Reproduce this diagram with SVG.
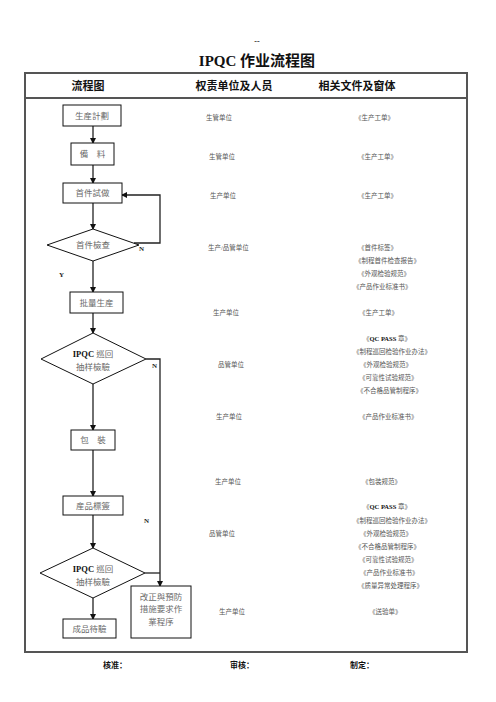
<svg xmlns="http://www.w3.org/2000/svg" width="496" height="702" viewBox="0 0 496 702">
<defs>
<marker id="ah" markerWidth="6" markerHeight="6" refX="5" refY="3" orient="auto" markerUnits="userSpaceOnUse">
<path d="M0,0 L6,3 L0,6 Z" fill="#111"/>
</marker>
<style>
.frame{stroke:#555;stroke-width:2;fill:none}
.node{fill:#fff;stroke:#111;stroke-width:1}
.ntx{font-family:"Liberation Serif","Noto Sans CJK TC","Noto Sans CJK SC",serif;font-size:8.5px;fill:#6a6a6a;text-anchor:middle}
.conn{stroke:#222;stroke-width:1.3;fill:none}
.arr{marker-end:url(#ah)}
.col{font-family:"Liberation Serif","Noto Sans CJK SC",serif;font-size:6.5px;fill:#555}
.hd{font-family:"Liberation Serif","Noto Sans CJK SC",serif;font-size:11px;font-weight:bold;fill:#111;text-anchor:middle}
.lbl{font-family:"Liberation Serif",serif;font-size:7px;font-weight:bold;fill:#222}
.ft{font-family:"Liberation Serif","Noto Sans CJK SC",serif;font-size:8px;font-weight:bold;fill:#111}
</style>
</defs>
<rect width="496" height="702" fill="#fff"/>
<text x="257" y="44" font-family="Liberation Serif,serif" font-size="8" font-weight="bold" text-anchor="middle" fill="#222">--</text>
<text x="257" y="66" font-family="Liberation Serif,'Noto Sans CJK SC',serif" font-size="15" font-weight="bold" text-anchor="middle" fill="#111">IPQC 作业流程图</text>
<g id="table">
<line class="frame" x1="24" y1="73" x2="468" y2="73"/>
<line class="frame" x1="24" y1="98" x2="468" y2="98"/>
<line class="frame" x1="24" y1="652" x2="468" y2="652"/>
<line class="frame" x1="25" y1="72" x2="25" y2="653"/>
<line class="frame" x1="467" y1="72" x2="467" y2="653" stroke-width="2.5"/>
<text class="hd" x="88" y="90">流程图</text>
<text class="hd" x="234" y="90">权责单位及人员</text>
<text class="hd" x="357" y="90">相关文件及窗体</text>
</g>
<g id="connectors">
<line class="conn arr" x1="93" y1="126" x2="93" y2="143"/>
<line class="conn arr" x1="93" y1="165" x2="93" y2="183"/>
<line class="conn arr" x1="93" y1="203" x2="93" y2="229"/>
<polyline class="conn arr" points="134,243 160,243 160,195 122,195"/>
<line class="conn arr" x1="93" y1="261" x2="93" y2="292"/>
<line class="conn arr" x1="93" y1="313" x2="93" y2="333"/>
<line class="conn arr" x1="93" y1="384" x2="93" y2="430"/>
<line class="conn arr" x1="93" y1="450" x2="93" y2="496"/>
<line class="conn arr" x1="93" y1="515" x2="93" y2="548"/>
<polyline class="conn arr" points="146,359 160,359 160,586"/>
<line class="conn" x1="145" y1="573" x2="160" y2="573"/>
<line class="conn arr" x1="93" y1="598" x2="93" y2="619"/>
<text class="lbl" x="139" y="251">N</text>
<text class="lbl" x="59" y="277">Y</text>
<text class="lbl" x="152" y="368">N</text>
<text class="lbl" x="144" y="523">N</text>
</g>
<g id="n1"><rect class="node" x="63" y="105" width="58" height="21"/><text class="ntx" x="92" y="118.5">生産計劃</text></g>
<g id="n2"><rect class="node" x="71" y="143" width="43" height="22"/><text class="ntx" x="92.5" y="157">備　料</text></g>
<g id="n3"><rect class="node" x="63" y="183" width="59" height="20"/><text class="ntx" x="92.5" y="196">首件試做</text></g>
<g id="n4"><polygon class="node" points="47,245 93,229 139,245 93,261"/><text class="ntx" x="93" y="248">首件檢查</text></g>
<g id="n5"><rect class="node" x="70" y="292" width="53" height="21"/><text class="ntx" x="96.5" y="306">批量生産</text></g>
<g id="n6"><polygon class="node" points="41,359 93,333 146,359 93,384"/><text class="ntx" x="93" y="357"><tspan font-weight="bold" fill="#111">IPQC</tspan> 巡回</text><text class="ntx" x="93" y="370">抽样檢驗</text></g>
<g id="n7"><rect class="node" x="71" y="430" width="44" height="20"/><text class="ntx" x="93" y="443">包　裝</text></g>
<g id="n8"><rect class="node" x="63" y="496" width="60" height="19"/><text class="ntx" x="93" y="508.5">産品標簽</text></g>
<g id="n9"><polygon class="node" points="40,573 93,548 145,573 93,598"/><text class="ntx" x="93" y="572"><tspan font-weight="bold" fill="#111">IPQC</tspan> 巡回</text><text class="ntx" x="93" y="584.5">抽样檢驗</text></g>
<g id="n10"><rect class="node" x="63" y="619" width="53" height="19"/><text class="ntx" x="89.5" y="631.5">成品待驗</text></g>
<g id="n11"><rect class="node" x="131" y="586" width="60" height="52"/><text class="ntx" x="161" y="600">改正與預防</text><text class="ntx" x="161" y="612">措施要求作</text><text class="ntx" x="161" y="625">業程序</text></g>
<g id="col2">
<text class="col" x="206" y="120">生管单位</text>
<text class="col" x="209" y="159">生管单位</text>
<text class="col" x="210" y="198">生产单位</text>
<text class="col" x="208" y="250">生产/品管单位</text>
<text class="col" x="213" y="315">生产单位</text>
<text class="col" x="218" y="367">品管单位</text>
<text class="col" x="216" y="419">生产单位</text>
<text class="col" x="215" y="484">生产单位</text>
<text class="col" x="209" y="536">品管单位</text>
<text class="col" x="219" y="614">生产单位</text>
</g>
<g id="col3">
<text class="col" x="355" y="120">《生产工单》</text>
<text class="col" x="358" y="159">《生产工单》</text>
<text class="col" x="358" y="198">《生产工单》</text>
<text class="col" x="358" y="250">《首件标签》</text>
<text class="col" x="355" y="263">《制程首件检查报告》</text>
<text class="col" x="358" y="276">《外观检验规范》</text>
<text class="col" x="353" y="289">《产品作业标准书》</text>
<text class="col" x="359" y="315">《生产工单》</text>
<text class="col" x="363" y="341">《<tspan font-weight="bold" fill="#111">QC PASS</tspan> 章》</text>
<text class="col" x="353" y="354">《制程巡回检验作业办法》</text>
<text class="col" x="360" y="367">《外观检验规范》</text>
<text class="col" x="359" y="380">《可靠性试验规范》</text>
<text class="col" x="357" y="393">《不合格品管制程序》</text>
<text class="col" x="359" y="419">《产品作业标准书》</text>
<text class="col" x="362" y="484">《包装规范》</text>
<text class="col" x="363" y="509">《<tspan font-weight="bold" fill="#111">QC PASS</tspan> 章》</text>
<text class="col" x="353" y="523">《制程巡回检验作业办法》</text>
<text class="col" x="360" y="536">《外观检验规范》</text>
<text class="col" x="355" y="549">《不合格品管制程序》</text>
<text class="col" x="359" y="562">《可靠性试验规范》</text>
<text class="col" x="360" y="575">《产品作业标准书》</text>
<text class="col" x="358" y="588">《质量异常处理程序》</text>
<text class="col" x="369" y="614">《送验单》</text>
</g>
<g id="footer">
<text class="ft" x="103" y="668">核准：</text>
<text class="ft" x="230" y="668">审核：</text>
<text class="ft" x="350" y="668">制定：</text>
</g>
</svg>
